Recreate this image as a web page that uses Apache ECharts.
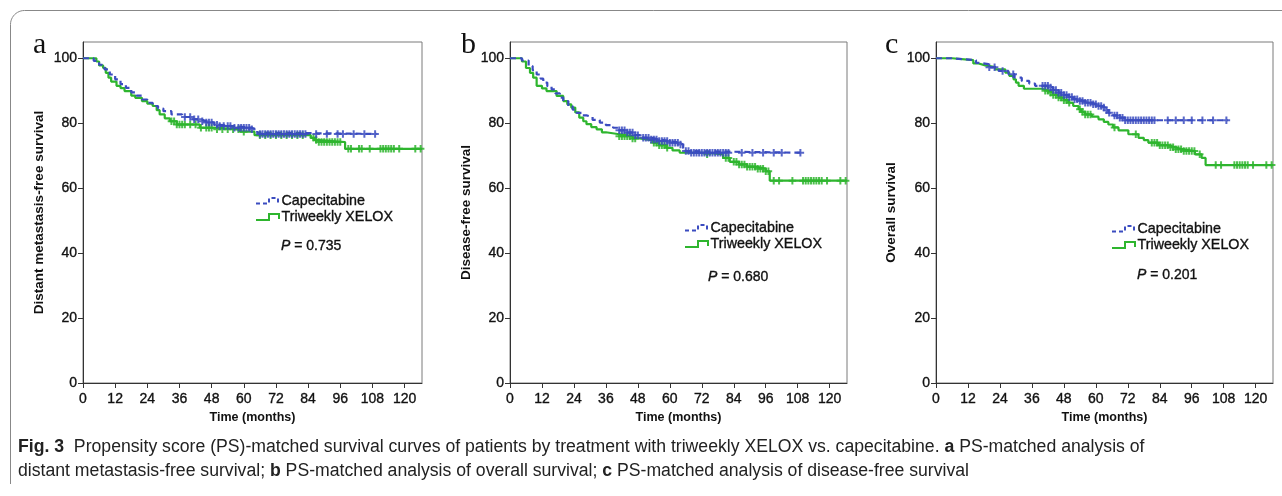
<!DOCTYPE html>
<html>
<head>
<meta charset="utf-8">
<script src="https://cdn.jsdelivr.net/npm/echarts@6/dist/echarts.min.js"></script>
<style>
html,body{margin:0;padding:0;background:#fff;}
#chart{width:1282px;height:496px;}
</style>
</head>
<body>
<div id="chart"></div>
<script>
// ---- Data ----
const xTicks = [0, 12, 24, 36, 48, 60, 72, 84, 96, 108, 120];
const yTicks = [0, 20, 40, 60, 80, 100];
const panelLetters = ['a', 'b', 'c'];
const yTitles = ['Distant metastasis-free survival', 'Disease-free survival', 'Overall survival'];
const xTitle = 'Time (months)';
const seriesNames = ['Capecitabine', 'Triweekly XELOX'];
const pValues = ['0.735', '0.680', '0.201'];

// Panel a: distant metastasis-free survival [month, survival %]
const dmfsCap = [[0,100],[4,99.2],[6,98],[8,96.6],[10,95],[12,93.5],[14,92],[16,90.9],[18,89.5],[20,88.5],[22,87.3],[24,86.3],[26,85.3],[28,84.5],[30,83.7],[33,82.7],[37,81.9],[41,81.2],[44,80.6],[46,80.2],[49,79.5],[51,79.1],[56,78.6],[63,78.1],[65,77.1],[66,76.7],[109.5,76.7]];
const dmfsXel = [[0,100],[5,99],[6,97.8],[7.5,97],[8.5,95.5],[9.5,94],[10.5,92.8],[12.5,91.5],[14,90.8],[15.5,89.9],[18,88.5],[19.5,87.8],[22,86.8],[24,86],[26,85.3],[27.5,84],[28.6,82.7],[30.5,81.5],[32.4,80.6],[35,79.6],[43.6,78.6],[50,78.1],[58.5,77.4],[64,76.3],[85,75.5],[86.5,74.8],[88,74.2],[97.8,72.1],[126.5,72.1]];
const dmfsCapCens = [38,40,41.5,43,44.5,46,47,48,50,51,52.5,54,55,56.5,58,59,60,61,62,63,66,67,68,69,70,71,72,73,74,75,76,77,78,79,80,81,82,83,87,91,95,97,101,105,109];
const dmfsXelCens = [33,34,35,36,37,38,40,42,44,46,47,48,50,52,54,56,58,60,66,68,70,72,74,76,78,80,82,86,87,88,89,90,91,92,93,94,95,96,99,100,103,104,107,111,112,113,114,115,116,118,124,126];

// Panel b: disease-free survival
const dfsCap = [[0,100],[4.5,99.3],[7,97.6],[8.5,96.3],[10,95],[11.5,93.7],[12.5,92.5],[14,91.4],[15.6,90.4],[17,89.2],[18.7,87.9],[20,86.8],[21.9,85.3],[23.5,84.2],[25,83.2],[27,82.4],[28.7,81.9],[31,81],[33.7,80.2],[36,79.4],[38.7,78.6],[41,77.8],[43.7,77.1],[47,76.3],[50,75.5],[53,75],[56,74.5],[60,74],[63.7,73.4],[65,72.3],[66,71.4],[68,70.9],[109.5,70.9]];
const dfsXel = [[0,100],[4.5,99],[6,97],[7.5,95.5],[8.7,94],[10,91.5],[12,90.7],[13.7,89.9],[17.5,88.4],[20,86.8],[21.5,85.8],[23,84.8],[24.5,83.3],[26,81.7],[27.5,80.6],[28.7,79.7],[30.5,78.8],[32.5,78.1],[34.5,77.2],[36,76.6],[41,76],[46,75.3],[48.7,74.7],[53.7,74],[56,73.2],[58.7,72.4],[61,71.6],[63.7,70.9],[73.7,70.4],[80,69.3],[82.5,68.1],[86,67.3],[89,66.6],[92.5,66],[96,65.2],[97.5,62.3],[126.5,62.3]];
const dfsCapCens = [41,42,43,44,45,46,47,48,50,51,52,53,54,55,56,57,58,59,60,61,62,63,64,66,67,68,69,70,71,72,73,74,75,76,77,78,79,80,81,82,87,91,95,99,102,109];
const dfsXelCens = [41,42,43,44,45,46,47,54,55,56,57,58,59,74,81,82,84,85,86,87,88,89,90,91,92,93,94,95,96,97,99,101,106,110,111,112,113,114,115,116,117,119,124,126];

// Panel c: overall survival
const osCap = [[0,100],[6,99.4],[15,98.6],[16.5,98.2],[19.7,97.2],[23.5,96.1],[27.2,95.1],[29.5,94],[32.2,93],[35,92.2],[37.2,91.5],[42.2,91],[44,90.2],[46,89.4],[48,88.7],[49.7,88.1],[51.5,87.4],[53.5,86.8],[56,86.3],[58.5,85.8],[60.5,85.3],[62.2,84.8],[63.5,84],[64.7,83.2],[66.5,82.4],[68.5,81.7],[71,80.9],[109.5,80.9]];
const osXel = [[0,100],[6,99.4],[14,98.4],[16,97.8],[18.5,97.3],[22.2,96.6],[26,95.6],[27.5,94.6],[29.1,93.5],[30,92.5],[31,91.5],[33,90.6],[39.7,90],[42.2,89.4],[44,88.7],[46,87.9],[48,87.1],[49.7,86.3],[51.5,85.3],[53.5,84.3],[54.5,83.5],[56,82.7],[58.5,82],[61,81.2],[63,80.4],[64.7,79.6],[66.5,78.7],[68.5,77.8],[72.2,76.6],[76,75.5],[78,74.8],[79.7,74],[83.5,73.2],[87.2,72.6],[90,72],[92.2,71.4],[97.2,70.4],[99.7,69.3],[101.2,67.1],[126.5,67.1]];
const osCapCens = [20,22,25,29,40,41,42,43,44,45,46,47,48,49,50,51,52,53,54,55,56,57,58,59,60,61,62,63,64,65,67,68,69,70,71,72,73,74,75,76,77,78,79,80,81,82,87,90,93,96,100,104,109];
const osXelCens = [41,42,43,44,45,46,47,48,49,50,54,55,56,57,58,67,75,81,82,83,84,85,86,87,88,89,90,91,92,93,94,95,96,97,99,105,107,112,113,114,115,116,117,119,124,126];

const capCurves = [dmfsCap, dfsCap, osCap];
const xelCurves = [dmfsXel, dfsXel, osXel];
const capCens = [dmfsCapCens, dfsCapCens, osCapCens];
const xelCens = [dmfsXelCens, dfsXelCens, osXelCens];

// ---- Styling / layout ----
const BLUE = '#3b4cc0';
const GREEN = '#2eb52e';
const TXT = '#111';
const SANS = '"Liberation Sans", Arial, sans-serif';
const gridLefts = [83, 510, 936];
const gridWidths = [339, 337, 337];
const gridTop = 42, gridHeight = 341;
const yNameGaps = [37, 37, 38];
const legendPos = [[256, 201], [685, 228], [1112, 229]];
const pPos = [[281, 246], [708, 277], [1137, 275]];
const letterPos = [[33, 50], [461, 50], [885, 50]];

function survAt(curve, t) {
  let s = curve[0][1];
  for (const p of curve) { if (p[0] <= t) s = p[1]; else break; }
  return s;
}
const plusPath = 'path://M2.2,0H3.8V2.2H6V3.8H3.8V6H2.2V3.8H0V2.2H2.2Z';

const grids = [], xAxes = [], yAxes = [], series = [], graphics = [];
for (let i = 0; i < 3; i++) {
  grids.push({left: gridLefts[i], top: gridTop, width: gridWidths[i], height: gridHeight,
    show: true, borderColor: '#7a7a7a', borderWidth: 1, backgroundColor: 'transparent'});
  xAxes.push({type: 'value', gridIndex: i, min: 0, max: 126.5,
    name: xTitle, nameLocation: 'middle', nameGap: 28,
    nameTextStyle: {fontFamily: SANS, fontWeight: 'bold', fontSize: 12.5, color: TXT},
    axisLine: {show: true, onZero: false, lineStyle: {color: '#333', width: 1}},
    axisTick: {show: true, inside: false, length: 5, lineStyle: {color: '#333'}, customValues: xTicks},
    axisLabel: {customValues: xTicks, margin: 9, fontFamily: SANS, fontSize: 14, color: TXT,
      textBorderColor: TXT, textBorderWidth: 0.35},
    splitLine: {show: false}});
  yAxes.push({type: 'value', gridIndex: i, min: 0, max: 105,
    name: yTitles[i], nameLocation: 'middle', nameGap: yNameGaps[i], nameRotate: 90,
    nameTextStyle: {fontFamily: SANS, fontWeight: 'bold', fontSize: 13.5, color: TXT},
    axisLine: {show: true, onZero: false, lineStyle: {color: '#333', width: 1}},
    axisTick: {show: true, inside: false, length: 5, lineStyle: {color: '#333'}, customValues: yTicks},
    axisLabel: {customValues: yTicks, margin: 6, fontFamily: SANS, fontSize: 14, color: TXT,
      textBorderColor: TXT, textBorderWidth: 0.35},
    splitLine: {show: false}});
  series.push({type: 'line', name: seriesNames[0], xAxisIndex: i, yAxisIndex: i, step: 'end',
    data: capCurves[i], showSymbol: false, silent: true, z: 3,
    lineStyle: {color: BLUE, width: 2.2, type: [6, 4]}, itemStyle: {color: BLUE}});
  series.push({type: 'line', name: seriesNames[1], xAxisIndex: i, yAxisIndex: i, step: 'end',
    data: xelCurves[i], showSymbol: false, silent: true, z: 2,
    lineStyle: {color: GREEN, width: 2.2}, itemStyle: {color: GREEN}});
  series.push({type: 'scatter', name: seriesNames[0] + ' censored', xAxisIndex: i, yAxisIndex: i,
    data: capCens[i].map(t => [t, survAt(capCurves[i], t)]), symbol: plusPath, symbolSize: 7.5,
    itemStyle: {color: BLUE, opacity: 0.85}, silent: true, z: 4});
  series.push({type: 'scatter', name: seriesNames[1] + ' censored', xAxisIndex: i, yAxisIndex: i,
    data: xelCens[i].map(t => [t, survAt(xelCurves[i], t)]), symbol: plusPath, symbolSize: 7.5,
    itemStyle: {color: GREEN, opacity: 0.85}, silent: true, z: 3});

  // panel letter
  graphics.push({type: 'text', x: letterPos[i][0], y: letterPos[i][1] - 20, silent: true,
    style: {text: panelLetters[i], font: '30px "Liberation Serif", "Times New Roman", serif', fill: '#111'}});
  // legend
  const [lx, ly] = legendPos[i];
  graphics.push({type: 'polyline', silent: true,
    shape: {points: [[lx, ly + 2.5], [lx + 13, ly + 2.5], [lx + 13, ly - 3], [lx + 22, ly - 3], [lx + 22, ly + 1.5]]},
    style: {stroke: BLUE, lineWidth: 2, fill: null, lineDash: [4, 3]}});
  graphics.push({type: 'text', x: lx + 25.5, y: ly, silent: true,
    style: {text: seriesNames[0], font: '14.3px ' + SANS, fill: TXT, textVerticalAlign: 'middle',
      stroke: TXT, lineWidth: 0.35}});
  graphics.push({type: 'polyline', silent: true,
    shape: {points: [[lx, ly + 19], [lx + 13, ly + 19], [lx + 13, ly + 13], [lx + 23, ly + 13], [lx + 23, ly + 18]]},
    style: {stroke: GREEN, lineWidth: 2, fill: null}});
  graphics.push({type: 'text', x: lx + 25.5, y: ly + 16.5, silent: true,
    style: {text: seriesNames[1], font: '14.3px ' + SANS, fill: TXT, textVerticalAlign: 'middle',
      stroke: TXT, lineWidth: 0.35}});
  // P value
  graphics.push({type: 'text', x: pPos[i][0], y: pPos[i][1], silent: true,
    style: {text: '{i|P} = ' + pValues[i], textVerticalAlign: 'middle', fill: TXT,
      font: '14px ' + SANS, stroke: TXT, lineWidth: 0.35,
      rich: {i: {fontStyle: 'italic', fontFamily: SANS, fontSize: 14, fill: TXT, stroke: TXT, lineWidth: 0.35}}}});
}

// outer frame (rounded top-left corner, open at bottom/right like the reference crop)
const framePts = [[10.5, 484]];
for (let k = 0; k <= 12; k++) {
  const a = Math.PI + (Math.PI / 2) * (k / 12);
  framePts.push([24.5 + 14 * Math.cos(a), 24.5 + 14 * Math.sin(a)]);
}
framePts.push([1290, 10.5]);
graphics.push({type: 'polyline', silent: true, z: -1,
  shape: {points: framePts},
  style: {fill: null, stroke: '#888', lineWidth: 1}});
// caption
const capFont = '"Liberation Sans", Arial, sans-serif';
graphics.push({type: 'text', x: 18, y: 447, scaleX: 0.98, silent: true,
  style: {text: '{b|Fig. 3}  Propensity score (PS)-matched survival curves of patients by treatment with triweekly XELOX vs. capecitabine. {b|a} PS-matched analysis of',
    textVerticalAlign: 'middle', fill: '#222', fontFamily: capFont, fontSize: 18,
    rich: {b: {fontWeight: 'bold', fontFamily: capFont, fontSize: 18, fill: '#222'}}}});
graphics.push({type: 'text', x: 18, y: 471, scaleX: 0.98, silent: true,
  style: {text: 'distant metastasis-free survival; {b|b} PS-matched analysis of overall survival; {b|c} PS-matched analysis of disease-free survival',
    textVerticalAlign: 'middle', fill: '#222', fontFamily: capFont, fontSize: 18,
    rich: {b: {fontWeight: 'bold', fontFamily: capFont, fontSize: 18, fill: '#222'}}}});

const chart = echarts.init(document.getElementById('chart'), null, {renderer: 'canvas'});
chart.setOption({
  backgroundColor: '#fff',
  animation: false,
  grid: grids, xAxis: xAxes, yAxis: yAxes, series: series, graphic: graphics
});
</script>
</body>
</html>
